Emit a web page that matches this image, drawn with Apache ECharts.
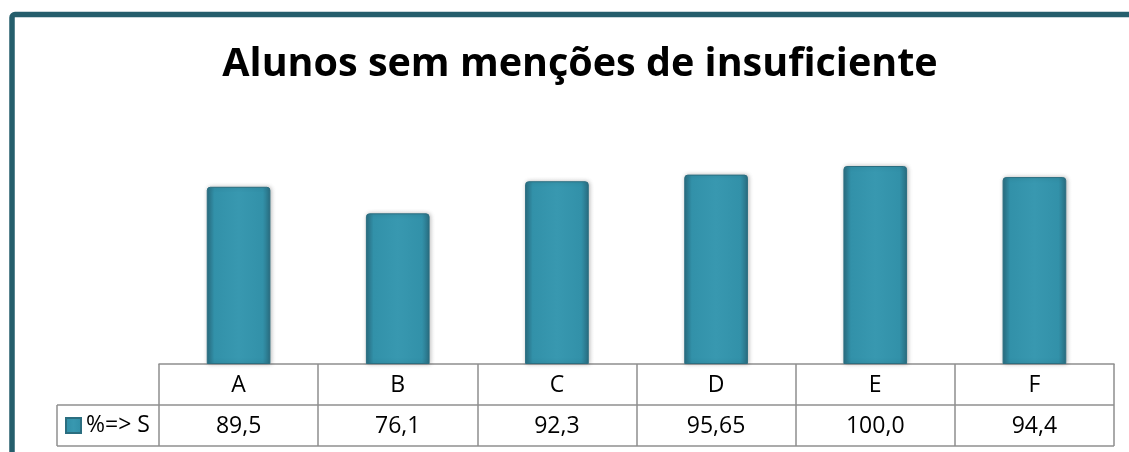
<!DOCTYPE html>
<html>
<head>
<meta charset="utf-8">
<script src="https://cdn.jsdelivr.net/npm/echarts@6/dist/echarts.min.js"></script>
<style>
html,body{margin:0;padding:0;background:#fff;}
#chart{width:1129px;height:452px;}
</style>
</head>
<body>
<div id="chart"></div>
<script>
// ---- data ----
const titleText = 'Alunos sem menções de insuficiente';
const seriesName = '%=> S';
const categories = ['A', 'B', 'C', 'D', 'E', 'F'];
const values = [89.5, 76.1, 92.3, 95.65, 100.0, 94.4];
const valueLabels = ['89,5', '76,1', '92,3', '95,65', '100,0', '94,4'];

// ---- layout constants ----
const W = 1129, H = 452;
const tableLeft = 57, plotLeft = 159, plotRight = 1114;
const rowTop = 364, rowMid = 405, rowBot = 446;
const gridColor = '#8f8f8f';
const frameColor = '#255e6c';
const fontFam = '"Open Sans", "Liberation Sans", sans-serif';

const chart = echarts.init(document.getElementById('chart'));

const barGradient = new echarts.graphic.LinearGradient(0, 0, 1, 0, [
  {offset: 0, color: '#2a6f83'},
  {offset: 0.12, color: '#3291a9'},
  {offset: 0.5, color: '#3898b0'},
  {offset: 0.88, color: '#3291a9'},
  {offset: 1, color: '#2a6f83'}
]);

chart.setOption({
  backgroundColor: '#ffffff',
  animation: false,
  title: {
    text: titleText,
    left: 575,
    textAlign: 'center',
    top: 40,
    textStyle: {fontFamily: fontFam, fontWeight: 'bold', fontSize: 39.5, color: '#000'}
  },
  legend: {
    data: [seriesName],
    left: 60,
    top: rowMid + 4,
    icon: 'rect',
    itemWidth: 15,
    itemHeight: 15,
    itemGap: 4,
    textStyle: {fontFamily: fontFam, fontSize: 23, color: '#000', padding: [0, 0, 0, 0]}
  },
  grid: {
    left: plotLeft,
    right: W - plotRight,
    top: 166,
    bottom: H - rowTop
  },
  xAxis: [
    {
      type: 'category',
      data: categories,
      position: 'bottom',
      axisLine: {show: true, lineStyle: {color: gridColor, width: 1.5}},
      axisTick: {show: true, length: rowBot - rowTop, lineStyle: {color: gridColor, width: 1.5}},
      axisLabel: {margin: 21, verticalAlign: 'middle', fontFamily: fontFam, fontSize: 23, color: '#000'}
    },
    {
      type: 'category',
      data: categories,
      position: 'bottom',
      axisLine: {show: false},
      axisTick: {show: false},
      axisLabel: {
        margin: 62, verticalAlign: 'middle', fontFamily: fontFam, fontSize: 23, color: '#000',
        formatter: (v, i) => valueLabels[i]
      }
    }
  ],
  yAxis: {
    type: 'value',
    min: 0,
    max: 100,
    show: false
  },
  series: [{
    name: seriesName,
    type: 'bar',
    data: values,
    barWidth: '40%',
    itemStyle: {
      color: barGradient,
      borderColor: '#2b6e80',
      borderWidth: 1,
      borderRadius: [3, 3, 0, 0],
      shadowBlur: 4,
      shadowColor: 'rgba(0,0,0,0.25)',
      shadowOffsetX: 1,
      shadowOffsetY: 0
    }
  }],
  graphic: [
    // outer frame
    {type: 'rect', shape: {x: 12, y: 14.5, width: 1200, height: 600, r: 3},
     style: {fill: 'none', stroke: frameColor, lineWidth: 5.5}, silent: true},
    // table lines
    {type: 'line', shape: {x1: tableLeft, y1: rowMid, x2: plotRight, y2: rowMid},
     style: {stroke: gridColor, lineWidth: 1.5}},
    {type: 'line', shape: {x1: tableLeft, y1: rowBot, x2: plotRight, y2: rowBot},
     style: {stroke: gridColor, lineWidth: 1.5}},
    {type: 'line', shape: {x1: tableLeft, y1: rowMid, x2: tableLeft, y2: rowBot},
     style: {stroke: gridColor, lineWidth: 1.5}}
  ]
});
</script>
</body>
</html>
